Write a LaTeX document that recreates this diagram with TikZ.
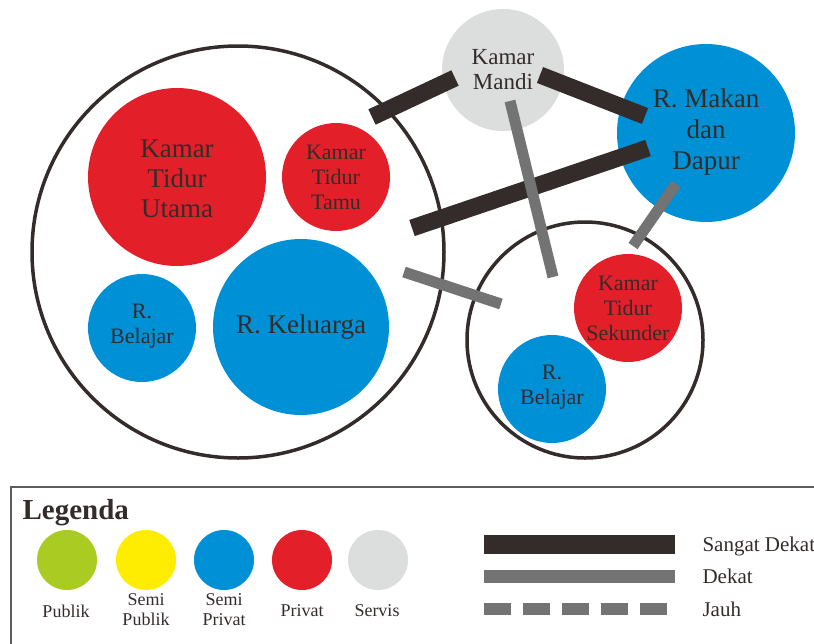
\documentclass[tikz,border=0pt]{standalone}
\usepackage{fontspec}
\setmainfont{Liberation Serif}
\usetikzlibrary{positioning}

\definecolor{publik}{RGB}{170,204,34}
\definecolor{semipublik}{RGB}{255,237,0}
\definecolor{semiprivat}{RGB}{0,144,214}
\definecolor{privat}{RGB}{227,32,42}
\definecolor{servis}{RGB}{220,221,221}
\definecolor{tinta}{RGB}{51,44,43}
\definecolor{abu}{RGB}{115,115,115}

\tikzset{
  ruang/.style={circle, inner sep=0pt, minimum size=#1},
  zona/.style={circle, draw=tinta, line width=3.5pt, inner sep=0pt, minimum size=#1},
  label ruang/.style 2 args={text=tinta, align=center, font=\fontsize{#1}{#2}\selectfont},
  sangatdekat/.style={draw=tinta, line width=17pt},
  dekat/.style={draw=abu, line width=11pt},
  jauh/.style={draw=abu, line width=12pt, dash pattern=on 27pt off 12pt}
}

\begin{document}
\begin{tikzpicture}[x=1pt, y=-1pt]
  \useasboundingbox (0,0) rectangle (814,643);

  % zona
  \node[zona=412] (zkiri)  at (238,252) {};
  \node[zona=236] (zkanan) at (585,340) {};

  % ruang
  \node[ruang=178, fill=privat]     (ktu)  at (177,177) {};
  \node[ruang=108, fill=privat]     (ktt)  at (336,177) {};
  \node[ruang=108, fill=semiprivat] (rb1)  at (142,328) {};
  \node[ruang=176, fill=semiprivat] (rk)   at (301,327) {};
  \node[ruang=122, fill=servis]     (km)   at (503,70)  {};
  \node[ruang=178, fill=semiprivat] (rmd)  at (706,133) {};
  \node[ruang=108, fill=privat]     (kts)  at (628,308) {};
  \node[ruang=108, fill=semiprivat] (rb2)  at (552,389) {};

  \node[label ruang={27}{30}] (ktu-t) at (177,179) {Kamar\\Tidur\\Utama};
  \node[label ruang={22}{25}] (ktt-t) at (ktt) {Kamar\\Tidur\\Tamu};
  \node[label ruang={22}{25}] (rb1-t) at (142,326) {R.\\Belajar};
  \node[label ruang={27}{30}] (rk-t)  at (rk)  {R. Keluarga};
  \node[label ruang={23}{25}] (km-t)  at (km)  {Kamar\\Mandi};
  \node[label ruang={27}{31}] (rmd-t) at (706,132) {R. Makan\\dan\\Dapur};
  \node[label ruang={22}{25}] (kts-t) at (kts) {Kamar\\Tidur\\Sekunder};
  \node[label ruang={22}{25}] (rb2-t) at (552,387) {R.\\Belajar};

  % hubungan
  \coordinate (h1a) at (372,117);  \coordinate (h1b) at (455,78);
  \coordinate (h2a) at (540,75);   \coordinate (h2b) at (645,116);
  \coordinate (h3a) at (412,228);  \coordinate (h3b) at (648,148);
  \coordinate (h4a) at (510,101);  \coordinate (h4b) at (553,277);
  \coordinate (h5a) at (676,184);  \coordinate (h5b) at (633,246);
  \coordinate (h6a) at (404,272);  \coordinate (h6b) at (501,304);
  \draw[sangatdekat] (h1a) -- (h1b);
  \draw[sangatdekat] (h2a) -- (h2b);
  \draw[sangatdekat] (h3a) -- (h3b);
  \draw[dekat] (h4a) -- (h4b);
  \draw[dekat] (h5a) -- (h5b);
  \draw[dekat] (h6a) -- (h6b);

  % legenda
  \draw[draw=abu!80!black, line width=2pt] (11,487) rectangle (830,670);
  \node[anchor=base west, text=tinta, font=\fontsize{29}{32}\selectfont\bfseries]
    (judul) at (19,519) {Legenda};

  \node[ruang=60, fill=publik]     (lg1) at (67,560)  {};
  \node[ruang=60, fill=semipublik] (lg2) at (146,560) {};
  \node[ruang=60, fill=semiprivat] (lg3) at (224,560) {};
  \node[ruang=60, fill=privat]     (lg4) at (302,560) {};
  \node[ruang=60, fill=servis]     (lg5) at (378,560) {};
  \node[label ruang={18}{20}] (lg1-t) at (66,611)  {Publik};
  \node[label ruang={18}{20}] (lg2-t) at (146,610) {Semi\\Publik};
  \node[label ruang={18}{20}] (lg3-t) at (224,610) {Semi\\Privat};
  \node[label ruang={18}{20}] (lg4-t) at (302,611) {Privat};
  \node[label ruang={18}{20}] (lg5-t) at (377,611) {Servis};

  \coordinate (g1a) at (484,544); \coordinate (g1b) at (675,544);
  \coordinate (g2a) at (484,576); \coordinate (g2b) at (675,576);
  \coordinate (g3a) at (484,609); \coordinate (g3b) at (668,609);
  \draw[sangatdekat, line width=19pt] (g1a) -- (g1b);
  \draw[dekat, line width=13pt] (g2a) -- (g2b);
  \draw[jauh] (g3a) -- (g3b);
  \node[anchor=base west, text=tinta, font=\fontsize{21}{24}\selectfont] (g1-t) at (699,551) {Sangat Dekat};
  \node[anchor=base west, text=tinta, font=\fontsize{21}{24}\selectfont] (g2-t) at (699,583) {Dekat};
  \node[anchor=base west, text=tinta, font=\fontsize{21}{24}\selectfont] (g3-t) at (699,616) {Jauh};
\end{tikzpicture}
\end{document}
